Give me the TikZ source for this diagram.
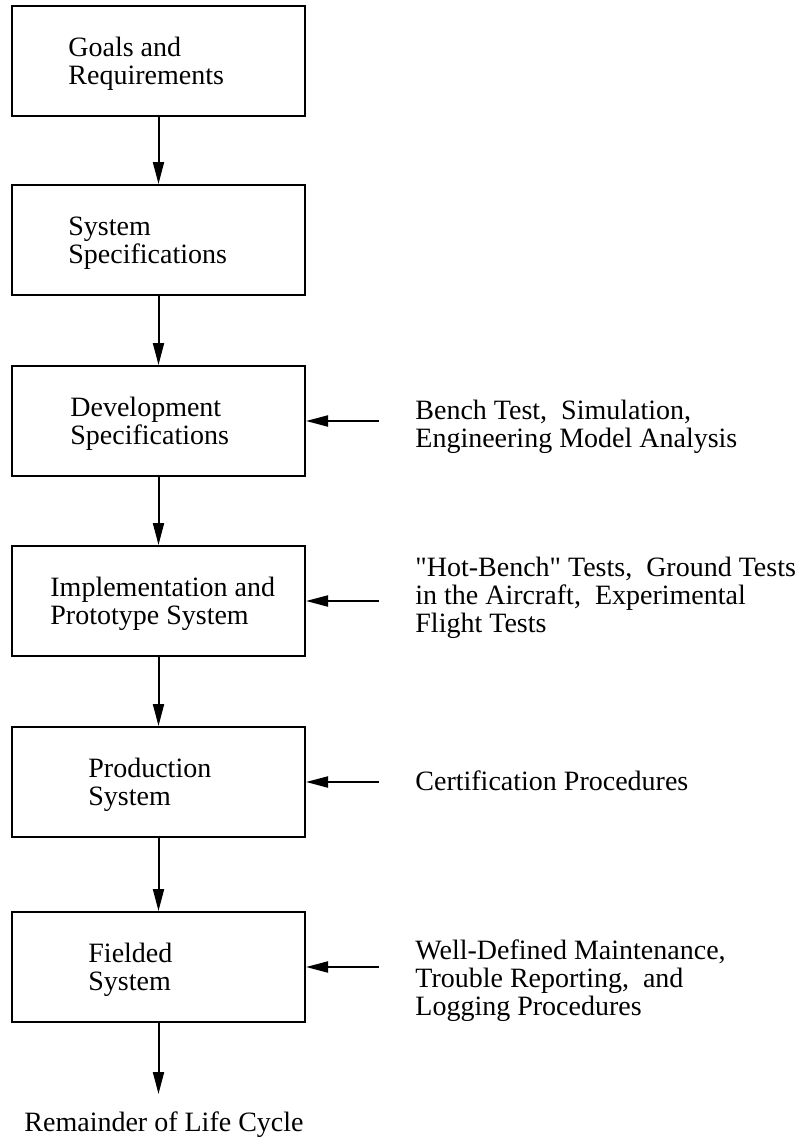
\documentclass[tikz,border=0pt]{standalone}
\usepackage{fontspec}
\setmainfont{Liberation Serif}
\usetikzlibrary{arrows.meta}
\begin{document}
\begin{tikzpicture}[x=0.5pt,y=-0.5pt,
  stage/.style={draw, line width=1pt, rectangle, minimum width=146.5pt,
    minimum height=55pt, inner sep=0pt},
  txt/.style={anchor=west, align=left, inner sep=0pt,
    font=\fontsize{14pt}{14pt}\selectfont},
  flow/.style={line width=1pt, -{Triangle[length=11pt,width=5.5pt]}}]
\useasboundingbox (0,0) rectangle (805,1140);

% life-cycle stages
\node[stage] (b1) at (158.5,61)  {};
\node[stage] (b2) at (158.5,240) {};
\node[stage] (b3) at (158.5,421) {};
\node[stage] (b4) at (158.5,601) {};
\node[stage] (b5) at (158.5,782) {};
\node[stage] (b6) at (158.5,967) {};

\node[txt] (t1) at (68,64)  {Goals and\\Requirements};
\node[txt] (t2) at (68,243) {System\\Specifications};
\node[txt] (t3) at (70,424) {Development\\Specifications};
\node[txt] (t4) at (50,604) {Implementation and\\Prototype System};
\node[txt] (t5) at (88,785) {Production\\System};
\node[txt] (t6) at (88,970) {Fielded\\System};

% verification activities feeding each stage
\node[txt] (n3) at (415,427) {Bench Test,\ \ Simulation,\\Engineering Model Analysis};
\node[txt] (n4) at (415,598) {\textquotedbl Hot-Bench\textquotedbl\ Tests,\ \ Ground Tests\\in the Aircraft,\ \ Experimental\\Flight Tests};
\node[txt] (n5) at (415,781) {Certification Procedures};
\node[txt] (n6) at (415,981) {Well-Defined Maintenance,\\Trouble Reporting,\ \ and\\Logging Procedures};

\node[anchor=base, inner sep=0pt, font=\fontsize{14pt}{14pt}\selectfont]
  (rest) at (164,1131) {Remainder of Life Cycle};

\coordinate (s3) at (379,421);
\coordinate (s4) at (379,601);
\coordinate (s5) at (379,782);
\coordinate (s6) at (379,967);
\coordinate (out) at (158.5,1094);

% connectors
\draw[flow] (b1.south) -- (b2.north);
\draw[flow] (b2.south) -- (b3.north);
\draw[flow] (b3.south) -- (b4.north);
\draw[flow] (b4.south) -- (b5.north);
\draw[flow] (b5.south) -- (b6.north);
\draw[flow] (b6.south) -- (out);

\draw[flow] (s3) -- (b3.east);
\draw[flow] (s4) -- (b4.east);
\draw[flow] (s5) -- (b5.east);
\draw[flow] (s6) -- (b6.east);
\end{tikzpicture}
\end{document}
